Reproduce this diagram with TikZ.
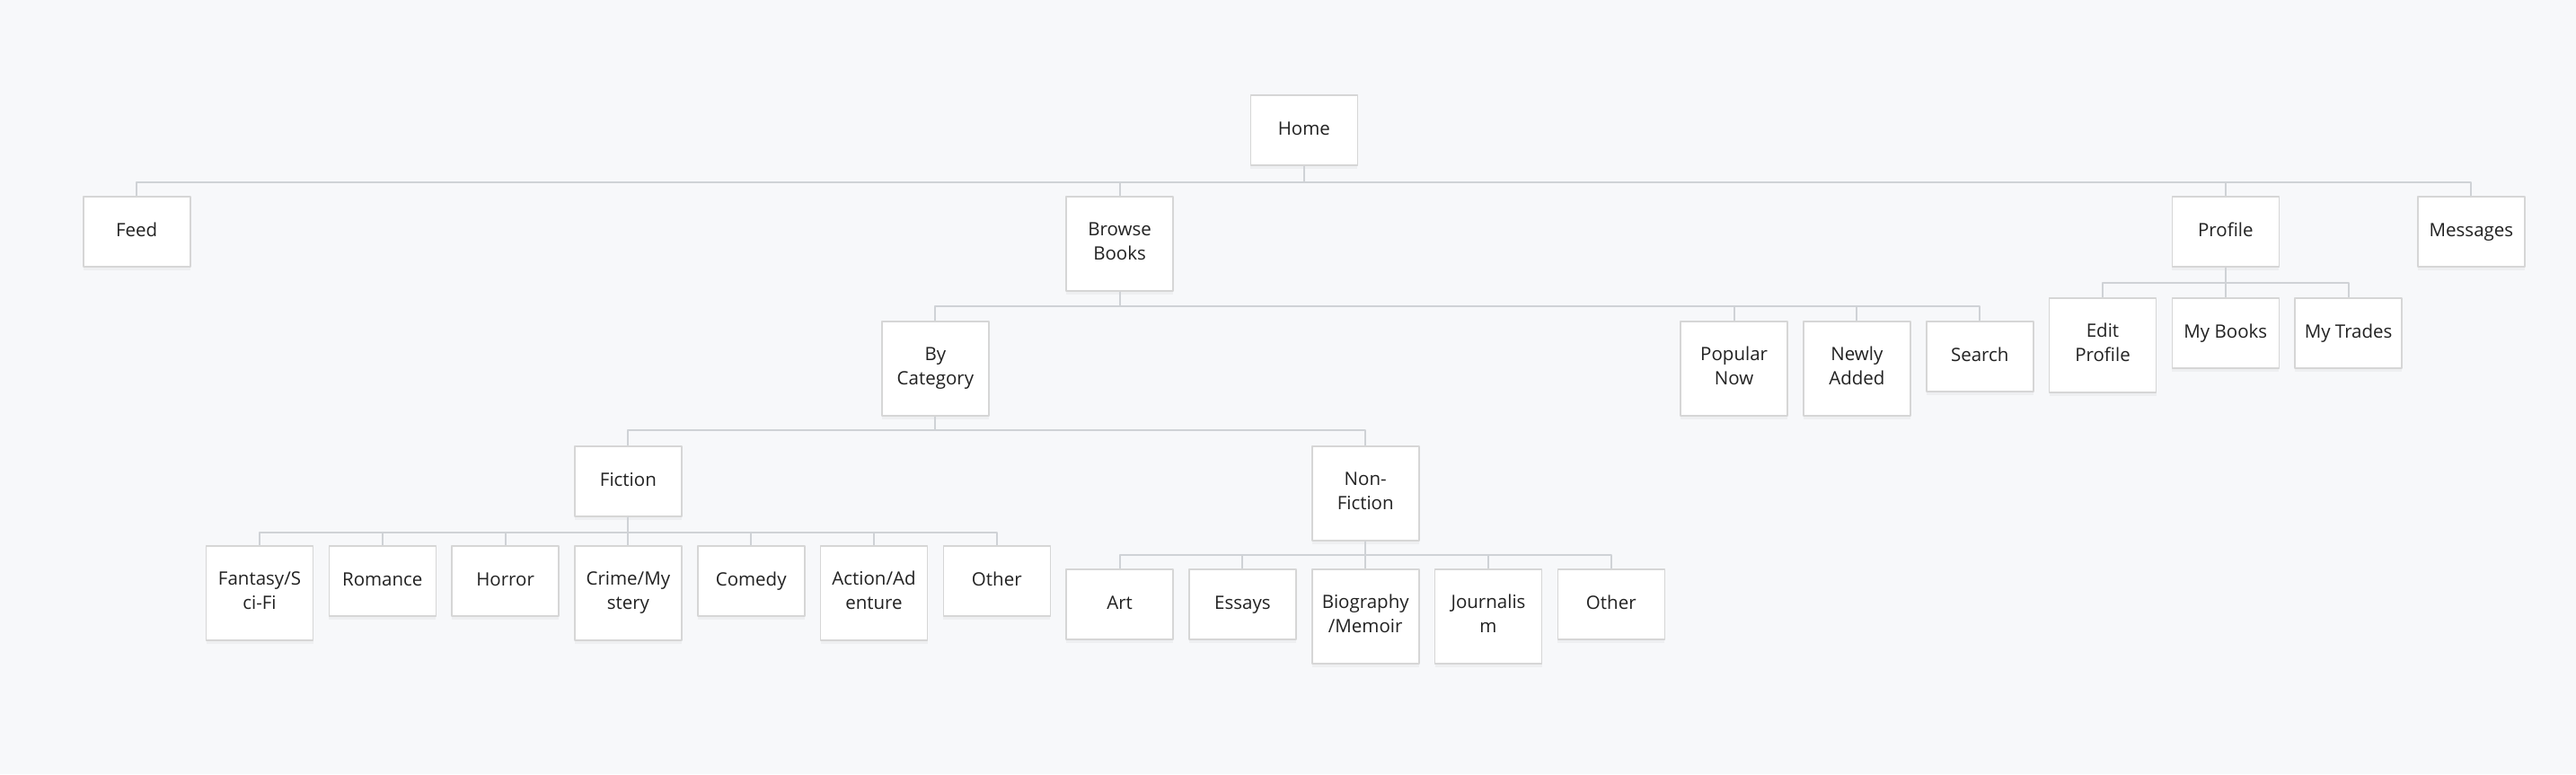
\documentclass[tikz,border=0pt]{standalone}
\usepackage{fontspec}
\setmainfont{Open Sans}
\usetikzlibrary{shadows}
\definecolor{bgc}{HTML}{F7F8FA}
\definecolor{edgec}{HTML}{D6D6D6}
\definecolor{linec}{HTML}{CFD2D6}
\definecolor{txtc}{HTML}{222222}
\def\pstrut{\rule[-5.5pt]{0pt}{22.5pt}}
\begin{document}
\begin{tikzpicture}[x=136.8pt,y=-1pt,font=\fontsize{20.5}{27}\selectfont,line join=round,
	page/.style={draw=edgec,line width=1.6pt,fill=white,text=txtc,anchor=north,minimum width=119pt,minimum height=78pt,inner sep=2pt,align=center,execute at begin node=\pstrut,execute at end node=\pstrut,drop shadow={opacity=0.07,shadow xshift=0pt,shadow yshift=-4pt}},
	tall/.style={page,minimum height=105pt},
	link/.style={draw=linec,line width=2pt}]
	\fill[bgc] (-2.1126,0) rectangle (18.8523,862);
	\useasboundingbox (-2.1126,0) rectangle (18.8523,862);
	% top level
	\node[page] (home) at (8.5,105) {Home};
	\node[page] (feed) at (-1,218) {Feed};
	\node[tall] (browse) at (7,218) {Browse\\Books};
	\node[page] (profile) at (16,218) {Profile};
	\node[page] (messages) at (18,218) {Messages};
	% browse books
	\node[tall] (bycat) at (5.5,357) {By\\Category};
	\node[tall] (popular) at (12,357) {Popular\\Now};
	\node[tall] (newly) at (13,357) {Newly\\Added};
	\node[page] (search) at (14,357) {Search};
	% profile
	\node[tall] (editprof) at (15,331) {Edit\\Profile};
	\node[page] (mybooks) at (16,331) {My Books};
	\node[page] (mytrades) at (17,331) {My Trades};
	% categories
	\node[page] (fiction) at (3,496) {Fiction};
	\node[tall] (nonfic) at (9,496) {Non-\\Fiction};
	\node[tall] (fantasy) at (0,607) {Fantasy/S\\ci-Fi};
	\node[page] (romance) at (1,607) {Romance};
	\node[page] (horror) at (2,607) {Horror};
	\node[tall] (crime) at (3,607) {Crime/My\\stery};
	\node[page] (comedy) at (4,607) {Comedy};
	\node[tall] (action) at (5,607) {Action/Ad\\enture};
	\node[page] (otherf) at (6,607) {Other};
	\node[page] (art) at (7,633) {Art};
	\node[page] (essays) at (8,633) {Essays};
	\node[tall] (bio) at (9,633) {Biography\\/Memoir};
	\node[tall] (journal) at (10,633) {Journalis\\m};
	\node[page] (othern) at (11,633) {Other};
	% links
	\foreach \c in {feed,browse,profile,messages} \draw[link] (home.south) -- ++(0,18) -| (\c.north);
	\foreach \c in {bycat,popular,newly,search} \draw[link] (browse.south) -- ++(0,16) -| (\c.north);
	\foreach \c in {editprof,mybooks,mytrades} \draw[link] (profile.south) -- ++(0,17) -| (\c.north);
	\foreach \c in {fiction,nonfic} \draw[link] (bycat.south) -- ++(0,15) -| (\c.north);
	\foreach \c in {fantasy,romance,horror,crime,comedy,action,otherf} \draw[link] (fiction.south) -- ++(0,17) -| (\c.north);
	\foreach \c in {art,essays,bio,journal,othern} \draw[link] (nonfic.south) -- ++(0,15) -| (\c.north);
\end{tikzpicture}
\end{document}
